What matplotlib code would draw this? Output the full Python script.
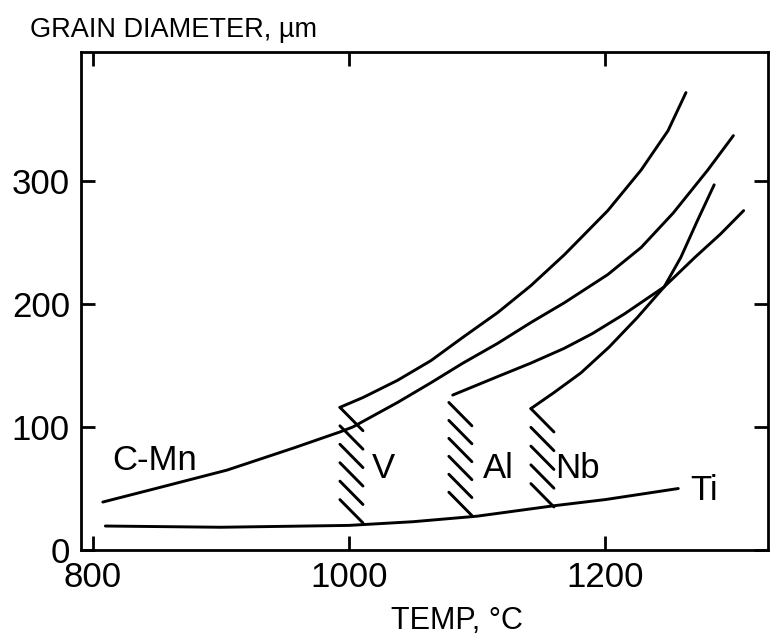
import matplotlib.pyplot as plt

plt.rcParams['font.family'] = ['Liberation Sans', 'DejaVu Sans']

# curves (temperature in C, grain diameter in um)
cmn_t = [808, 853, 905, 957, 993, 1003, 1038, 1064, 1089, 1116, 1142, 1168,
         1202, 1228, 1253, 1280, 1300]
cmn_d = [39, 51, 65, 83, 96, 100, 120, 136, 152, 168, 185, 201,
         224, 246, 274, 309, 337]

v_t = [993, 1011, 1038, 1064, 1089, 1116, 1142, 1168, 1202, 1228, 1249, 1263]
v_d = [116, 124, 138, 154, 173, 193, 215, 240, 276, 309, 341, 372]

al_t = [1081, 1116, 1142, 1168, 1190, 1215, 1246, 1270, 1290, 1308]
al_d = [126, 141, 152, 164, 176, 192, 214, 238, 257, 276]

nb_t = [1142, 1160, 1181, 1203, 1225, 1246, 1259, 1272, 1285]
nb_d = [115, 128, 144, 165, 189, 214, 238, 268, 297]

ti_t = [810, 900, 1000, 1050, 1100, 1160, 1200, 1257]
ti_d = [19.5, 18.5, 20, 23, 27.5, 36, 41, 50]

# hatched bands: left temperature, top and bottom diameter, number of strokes
hatch_t = [993, 1078, 1142]
hatch_top = [116, 120, 115]
hatch_bot = [22, 28, 35]
hatch_n = [6, 6, 5]

x_ticks = [800, 1000, 1200]
y_ticks = [0, 100, 200, 300]

fig = plt.figure(figsize=(7.7, 6.37), dpi=100)
ax = fig.add_axes([81/770, 1 - 550/637, 687/770, 498/637])

lw = 2.1
for t, d in [(cmn_t, cmn_d), (v_t, v_d), (al_t, al_d), (nb_t, nb_d), (ti_t, ti_d)]:
    ax.plot(t, d, color='black', lw=lw, solid_capstyle='round',
            solid_joinstyle='round')

# short diagonal strokes of the hatched bands
dt, dd = 18, 19
for t0, top, bot, n in zip(hatch_t, hatch_top, hatch_bot, hatch_n):
    step = (top - bot - dd) / (n - 1)
    for i in range(n):
        y0 = top - i * step
        ax.plot([t0, t0 + dt], [y0, y0 - dd], color='black', lw=lw,
                solid_capstyle='round')

fs = 25
ax.text(815, 73, 'C-Mn', fontsize=fs, va='center', ha='left')
ax.text(1027, 66, 'V', fontsize=fs, va='center', ha='center')
ax.text(1117, 66, 'Al', fontsize=fs, va='center', ha='center')
ax.text(1161, 66, 'Nb', fontsize=fs, va='center', ha='left')
ax.text(1266, 48, 'Ti', fontsize=fs, va='center', ha='left')

ax.set_xlim(791, 1327)
ax.set_ylim(0, 405)
ax.set_xticks(x_ticks)
ax.set_yticks(y_ticks)
ax.tick_params(direction='in', length=10, width=2, labelsize=fs, pad=8,
               top=True, right=True)
for s in ax.spines.values():
    s.set_linewidth(2)

fig.text(30/770, 1 - 30/637, 'GRAIN DIAMETER, \u00b5m', fontsize=19.5,
         ha='left', va='center')
fig.text(457/770, 1 - 621/637, 'TEMP, \u00b0C', fontsize=22,
         ha='center', va='center')

plt.savefig('out.png', dpi=100)
